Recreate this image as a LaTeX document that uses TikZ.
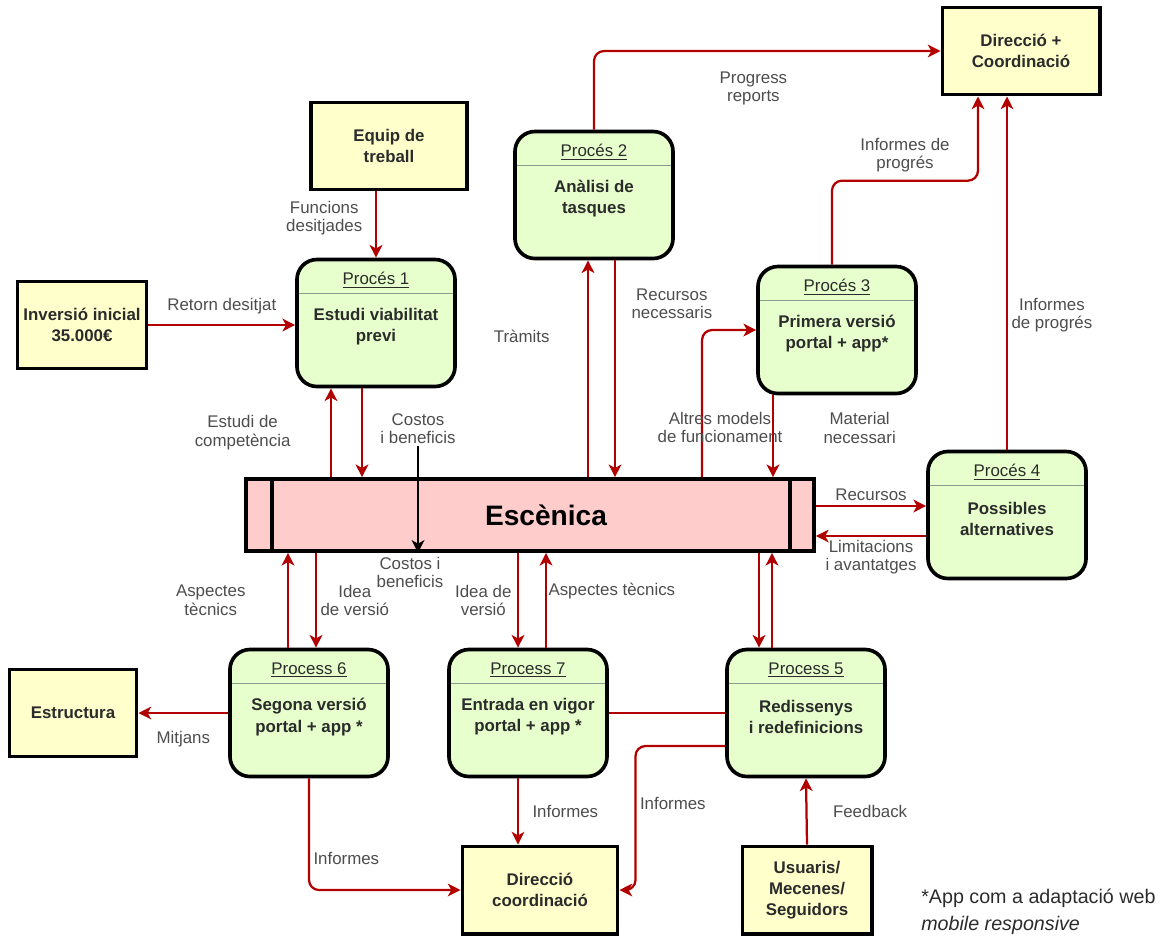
\documentclass[tikz,border=0pt]{standalone}
\usepackage{fontspec}
\setmainfont{Liberation Sans}
\usepackage{tikz}
\usetikzlibrary{arrows.meta,positioning,calc}
\definecolor{FlowRed}{HTML}{B20000}
\definecolor{ProcBg}{HTML}{E6FFCC}
\definecolor{ExtBg}{HTML}{FFFFCC}
\definecolor{StoreBg}{HTML}{FFCCCC}
\definecolor{Gray30}{HTML}{4D4D4D}
\definecolor{TextDark}{HTML}{2B2B2B}
\definecolor{HdrGray}{HTML}{8C9C8C}
% process box: rounded node, title on top, rule under the title
\newcommand{\procbox}[4]{%
  \node[proc] (#1) at (#2) {};
  \node[ptitle] (#1t) at ([yshift=-0.56cm]#1.north) {\underline{#3}};
  \node[pbody] (#1b) at ([yshift=-0.1cm]#1.center) {#4};
  \draw[hdrline] ([yshift=-0.9cm]#1.north west) -- ([yshift=-0.9cm]#1.north east);
}

\begin{document}
\begin{tikzpicture}[
  x=0.025cm,y=-0.025cm,
  font=\fontsize{12}{13}\selectfont,
  proc/.style={draw=black,fill=ProcBg,line width=2.6pt,rounded corners=0.5cm,
               minimum width=3.95cm,minimum height=3.175cm},
  pbody/.style={align=center,inner sep=1pt,text=TextDark,font=\fontsize{12}{15}\selectfont\bfseries},
  ptitle/.style={text=TextDark,inner sep=1pt,font=\fontsize{12}{14}\selectfont},
  hdrline/.style={draw=HdrGray,line width=1pt,shorten <=2.6pt,shorten >=2.6pt},
  ext/.style={draw=black,fill=ExtBg,line width=2.8pt,inner sep=2pt,align=center,
              minimum height=2.175cm,text=TextDark,font=\fontsize{12}{15}\selectfont\bfseries},
  storebox/.style={draw=black,fill=StoreBg,line width=2.6pt,minimum width=14.2cm,
              minimum height=1.8cm,font=\fontsize{20}{24}\selectfont\bfseries,
              path picture={
                \draw[line width=2.4pt] ([xshift=0.65cm]path picture bounding box.north west)
                  -- ([xshift=0.65cm]path picture bounding box.south west);
                \draw[line width=2.4pt] ([xshift=-0.6cm]path picture bounding box.north east)
                  -- ([xshift=-0.6cm]path picture bounding box.south east);}},
  fl/.style={-{Stealth[length=9pt,width=9pt,inset=2.5pt]},line width=1.6pt,FlowRed,rounded corners=0.25cm},
  blk/.style={-{Stealth[length=9pt,width=9pt,inset=2.5pt]},line width=1.6pt,black},
  ln/.style={line width=1.6pt,FlowRed},
  lbl/.style={text=Gray30,align=center,inner sep=1pt},
  fnote/.style={text=TextDark,align=left,inner sep=0pt,font=\fontsize{14}{19}\selectfont}
]
\useasboundingbox (0,0) rectangle (1168,936);
% external entities
\node[ext,minimum width=3.9cm]   (equip) at (389,146) {Equip de\\treball};
\node[ext,minimum width=3.225cm] (inv)   at (82,325)  {Inversió inicial\\35.000€};
\node[ext,minimum width=3.925cm] (dirA)  at (1021,51) {Direcció +\\Coordinació};
\node[ext,minimum width=3.175cm] (estr)  at (73,713)  {Estructura};
\node[ext,minimum width=3.875cm] (dirB)  at (540,890) {Direcció\\coordinació};
\node[ext,minimum width=3.225cm] (usu)   at (807,890) {Usuaris/\\Mecenes/\\Seguidors};
% processes
\procbox{p1}{376,323}{Procés 1}{Estudi viabilitat\\previ}
\procbox{p2}{594,195}{Procés 2}{Anàlisi de\\tasques}
\procbox{p3}{837,330}{Procés 3}{Primera versió\\portal + app*}
\procbox{p4}{1007,515}{Procés 4}{Possibles\\alternatives}
\procbox{p6}{309,713}{Process 6}{Segona versió\\portal + app *}
\procbox{p7}{528,713}{Process 7}{Entrada en vigor\\portal + app *}
\procbox{p5}{806,713}{Process 5}{Redissenys\\i redefinicions}
% data store
\node[storebox] (esc) at (530,515) {\hspace*{0.8cm}Escènica};
% Procés 1
\draw[fl] (equip.south -| p1.north) -- node[lbl,left=8pt,pos=0.4]{Funcions\\desitjades} (p1.north);
\draw[fl] (inv.east) -- node[lbl,above=6pt]{Retorn desitjat} (inv.east -| p1.west);
\draw[fl] ([xshift=-1.125cm]p1.south |- esc.north) -- node[lbl,left=0.95cm]{Estudi de\\competència} ([xshift=-1.125cm]p1.south);
\draw[fl] ([xshift=-0.35cm]p1.south) -- ([xshift=-0.35cm]p1.south |- esc.north);
\coordinate (cost) at (418,446);
\draw[blk] (cost) node[lbl,above=0pt]{Costos\\i beneficis} -- (cost |- esc.south)
      node[lbl,below=1pt,xshift=-0.2cm]{Costos i\\beneficis};
% Procés 2
\draw[fl] ([xshift=-0.15cm]p2.south |- esc.north) -- node[lbl,left=0.9cm,pos=0.65]{Tràmits} ([xshift=-0.15cm]p2.south);
\draw[fl] ([xshift=0.525cm]p2.south) -- node[lbl,right=0.35cm,pos=0.2]{Recursos\\necessaris} ([xshift=0.525cm]p2.south |- esc.north);
\draw[fl] (p2.north) |- node[lbl,below=0.45cm,pos=0.73]{Progress\\reports} (dirA.west);
% Procés 3
\draw[fl] ([xshift=4.3cm]esc.north) |- node[lbl,pos=0.17,xshift=0.45cm]{Altres models\\de funcionament} (p3.west);
\draw[fl] ([xshift=-1.6cm]p3.south) -- node[lbl,right=1.2cm,pos=0.4]{Material\\necessari} ([xshift=-1.6cm]p3.south |- esc.north);
\draw[fl] ([xshift=-0.125cm]p3.north) -- ++(0,-84) -| node[lbl,above=0.15cm,pos=0.25]{Informes de\\progrés} ([xshift=-1.075cm]dirA.south);
% Procés 4
\draw[fl] (p4.north) -- node[lbl,right=0.05cm,pos=0.38]{Informes\\de progrés} (p4.north |- dirA.south);
\draw[fl] ([yshift=0.225cm]esc.east) -- node[lbl,above=2pt]{Recursos} ([yshift=0.225cm]esc.east -| p4.west);
\draw[fl] ([yshift=-0.525cm]p4.west) -- node[lbl,below=1pt]{Limitacions\\i avantatges} ([yshift=-0.525cm]p4.west -| esc.east);
% Process 6
\draw[fl] ([xshift=-0.525cm]p6.north) -- node[lbl,left=1cm]{Aspectes\\tècnics} ([xshift=-0.525cm]p6.north |- esc.south);
\draw[fl] ([xshift=0.175cm]p6.north |- esc.south) -- node[lbl,right=0.05cm]{Idea\\de versió} ([xshift=0.175cm]p6.north);
\draw[fl] (p6.west) -- node[lbl,below=0.4cm]{Mitjans} (estr.east);
\draw[fl] (p6.south) |- node[lbl,right=0.05cm,pos=0.36]{Informes} (dirB.west);
% Process 7
\draw[fl] ([xshift=-0.25cm]p7.north |- esc.south) -- node[lbl,left=0.1cm]{Idea de\\versió} ([xshift=-0.25cm]p7.north);
\draw[fl] ([xshift=0.45cm]p7.north) -- node[lbl,right=0pt,pos=0.6]{Aspectes tècnics} ([xshift=0.45cm]p7.north |- esc.south);
\draw[fl] ([xshift=-0.25cm]p7.south) -- node[lbl,right=0.3cm]{Informes} ([xshift=-0.25cm]p7.south |- dirB.north);
\draw[ln] (p7.east) -- (p5.west);
% Process 5
\draw[fl] ([xshift=-1.175cm]p5.north |- esc.south) -- ([xshift=-1.175cm]p5.north);
\draw[fl] ([xshift=-0.85cm]p5.north) -- ([xshift=-0.85cm]p5.north |- esc.south);
\draw[fl] ([yshift=-0.825cm]p5.west) -| node[lbl,right=0.05cm,pos=0.7]{Informes} ([xshift=0.4cm]dirB.east) -- (dirB.east);
\draw[fl] (usu.north) -- node[lbl,right=0.6cm]{Feedback} (p5.south);
% footnote
\node[fnote,anchor=west] (fn) at (921,912) {*App com a adaptació web\\\textit{mobile responsive}};
\end{tikzpicture}
\end{document}
